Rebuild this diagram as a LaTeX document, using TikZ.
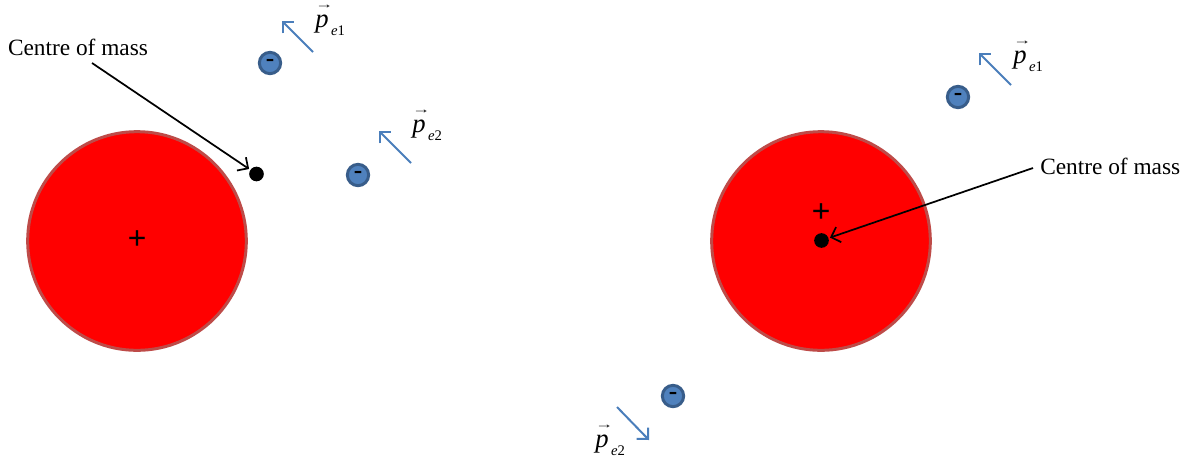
\documentclass[tikz,border=0pt]{standalone}
\usepackage{fontspec}
\setmainfont{Liberation Serif}
\usetikzlibrary{arrows.meta}
\definecolor{nucfill}{RGB}{255,0,0}
\definecolor{nucedge}{RGB}{190,75,72}
\definecolor{elfill}{RGB}{79,129,189}
\definecolor{eledge}{RGB}{56,93,138}
\definecolor{momblue}{RGB}{74,126,187}
\newcommand\pmom[1]{\rlap{\raisebox{14pt}{\hspace{0pt}\fontsize{9}{9}\selectfont\scalebox{1.5}[1]{→}}}\textit{p}\raisebox{-6pt}{\fontsize{11}{11}\selectfont\,\textit{e}#1}}
\tikzset{
  nucleus/.style={circle,draw=nucedge,fill=nucfill,line width=2.25pt,minimum size=164pt,inner sep=0pt},
  electron/.style={circle,draw=eledge,fill=elfill,line width=2.25pt,minimum size=16pt,inner sep=0pt,
     font=\fontsize{19}{19}\selectfont\bfseries},
  cmdot/.style={circle,fill=black,minimum size=11pt,inner sep=0pt},
  plussign/.style={font=\fontsize{25}{25}\selectfont\bfseries,inner sep=0pt},
  cmlabel/.style={font=\fontsize{17.5}{20}\selectfont,inner sep=0pt},
  momlabel/.style={font=\fontsize{20}{22}\selectfont,inner sep=0pt,anchor=base west},
  momarrow/.style={draw=momblue,line width=1.5pt,-{Straight Barb[length=6pt,width=12pt,line width=1.5pt]}},
  cmarrow/.style={draw=black,line width=1.3pt,-{Straight Barb[length=6pt,width=12pt,line width=1.3pt]},shorten >=1pt}
}
\begin{document}
\begin{tikzpicture}[x=0.75pt,y=-0.75pt]
\useasboundingbox (0,0) rectangle (1190,462);
% left system
\node[nucleus] (nucL) at (137,241) {};
\node[plussign] (plusL) at (137,240) {+};
\node[cmdot] (cmL) at (256.5,174) {};
\node[cmlabel] (labL) at (78,47) {Centre of mass};
\coordinate (labLs) at (92,63);
\draw[cmarrow] (labLs) -- (cmL);
\node[electron] (eL1) at (270,63) {-};
\node[electron] (eL2) at (358,175) {-};
\coordinate (pL1s) at (313,52);
\coordinate (pL1e) at (282,21);
\coordinate (pL2s) at (411,163);
\coordinate (pL2e) at (379,131);
\draw[momarrow] (pL1s) -- (pL1e);
\draw[momarrow] (pL2s) -- (pL2e);
\node[momlabel] (mL1) at (315,27) {\pmom{1}};
\node[momlabel] (mL2) at (412,132) {\pmom{2}};
% right system
\node[nucleus] (nucR) at (821,241) {};
\node[plussign] (plusR) at (821,213) {+};
\node[cmdot] (cmR) at (821.5,240.5) {};
\node[cmlabel,anchor=west] (labR) at (1040,166) {Centre of mass};
\draw[cmarrow] (labR.west) ++(-7,2) coordinate (labRs) (labRs) -- (cmR);
\node[electron] (eR1) at (958,97) {-};
\node[electron] (eR2) at (673,396) {-};
\coordinate (pR1s) at (1011,85);
\coordinate (pR1e) at (979,53);
\coordinate (pR2s) at (617,407);
\coordinate (pR2e) at (649,440);
\draw[momarrow] (pR1s) -- (pR1e);
\draw[momarrow] (pR2s) -- (pR2e);
\node[momlabel] (mR1) at (1013,63) {\pmom{1}};
\node[momlabel] (mR2) at (595,447) {\pmom{2}};
\end{tikzpicture}
\end{document}
